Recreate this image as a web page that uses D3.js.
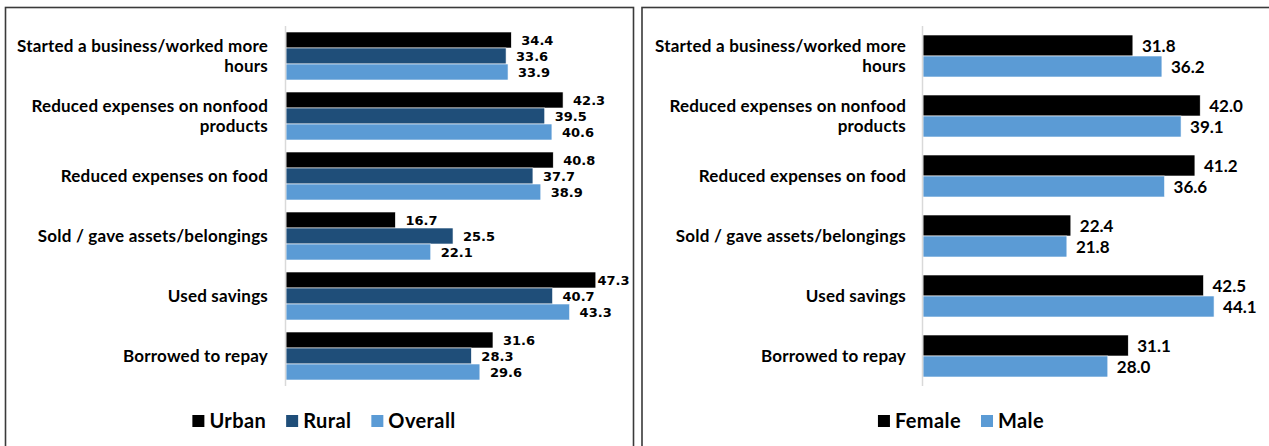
<!DOCTYPE html>
<html><head><meta charset="utf-8">
<script src="https://cdn.jsdelivr.net/npm/d3@7"></script>
<style>body{margin:0;background:#fff;}svg{display:block;}</style>
</head><body>
<svg id="c" width="1269" height="446"></svg>
<script>
const categories = ["Started a business/worked more\nhours","Reduced expenses on nonfood\nproducts","Reduced expenses on food","Sold / gave assets/belongings","Used savings","Borrowed to repay"];
const urban   = [34.4,42.3,40.8,16.7,47.3,31.6];
const rural   = [33.6,39.5,37.7,25.5,40.7,28.3];
const overall = [33.9,40.6,38.9,22.1,43.3,29.6];
const female  = [31.8,42.0,41.2,22.4,42.5,31.1];
const male    = [36.2,39.1,36.6,21.8,44.1,28.0];
const leftSeries = ["Urban","Rural","Overall"];
const rightSeries = ["Female","Male"];

const svg = d3.select("#c");
const catFont = "Lato, sans-serif";

function panel(cfg){
  const g = svg.append("g");
  g.append("rect").attr("x",cfg.bx).attr("y",7.5).attr("width",cfg.bw).attr("height",460)
    .attr("fill","none").attr("stroke","#3a3a3a").attr("stroke-width",1.6);
  const x = d3.scaleLinear().domain([0,50]).range([cfg.x0,cfg.x1]);
  const y = d3.scaleBand().domain(categories).range([26,386]).padding(0);
  const ys = d3.scaleBand().domain(cfg.names).range(cfg.sub).padding(0);
  // category labels
  categories.forEach((c,i)=>{
    const lines = c.split("\n");
    const cy = y(c)+y.bandwidth()/2;
    const t = g.append("text").attr("x",cfg.labelX).attr("text-anchor","end")
      .attr("font-family",catFont).attr("font-weight",700).attr("font-size",17)
      .attr("letter-spacing","0.2px").attr("fill","#000");
    lines.forEach((l,j)=>{
      t.append("tspan").attr("x",cfg.labelX)
        .attr("y",cy + (j-(lines.length-1)/2)*20).attr("dy","0.35em").text(l);
    });
  });
  // bars
  cfg.names.forEach((n,si)=>{
    const vals = cfg.data[si];
    g.selectAll(null).data(vals).enter().append("rect")
      .attr("x",x(0)).attr("y",(d,i)=>y(categories[i])+ys(n))
      .attr("width",d=>x(d)-x(0)).attr("height",ys.bandwidth())
      .attr("fill",cfg.colors[si]).attr("stroke","#fff").attr("stroke-width",0.6);
    g.selectAll(null).data(vals).enter().append("text")
      .attr("x",d=>Math.min(x(d)+cfg.off, cfg.bx+cfg.bw-cfg.lw))
      .attr("y",(d,i)=>y(categories[i])+ys(n)+ys.bandwidth()/2).attr("dy","0.36em")
      .attr("font-family",cfg.valFont).attr("font-weight",700).attr("font-size",cfg.valSize)
      .attr("fill","#000").text(d=>d.toFixed(1));
  });
  // axis line
  g.append("line").attr("x1",x(0)-0.5).attr("x2",x(0)-0.5).attr("y1",26).attr("y2",386)
    .attr("stroke","#d9d9d9").attr("stroke-width",1.5);
  // legend
  const lg = g.append("g");
  let cx = 0;
  cfg.names.forEach((n,si)=>{
    const item = lg.append("g").attr("transform",`translate(${cx},0)`);
    item.append("rect").attr("x",0).attr("y",-6).attr("width",12).attr("height",12).attr("fill",cfg.colors[si]);
    const t = item.append("text").attr("x",17).attr("y",0).attr("dy","0.36em")
      .attr("font-family",catFont).attr("font-weight",700).attr("font-size",20)
      .attr("letter-spacing","0.4px").attr("fill","#000").text(n);
    cx += 17 + t.node().getComputedTextLength() + 20;
  });
  const lwid = cx - 20;
  lg.attr("transform",`translate(${cfg.legendC - lwid/2},421)`);
}

panel({bx:5.5,bw:628,x0:286,x1:613.5,sub:[6,54],names:leftSeries,data:[urban,rural,overall],
  colors:["#000000","#1f4e79","#5b9bd5"],labelX:268,off:10,lw:36,valFont:"DejaVu Sans, sans-serif",valSize:13,legendC:324});
panel({bx:642,bw:640,x0:923,x1:1253,sub:[9,51],names:rightSeries,data:[female,male],
  colors:["#000000","#5b9bd5"],labelX:906,off:9,lw:40,valFont:"Lato, sans-serif",valSize:17,legendC:961});
</script>
</body></html>
